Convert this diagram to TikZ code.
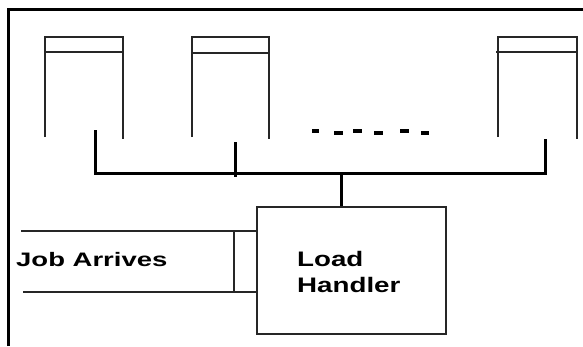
\documentclass[tikz,border=0pt]{standalone}
\usepackage{fontspec}
\setmainfont{Liberation Sans}
\begin{document}
\begin{tikzpicture}[x=1pt,y=-1pt,
  thinline/.style={line width=1.4pt,black!85},
  busline/.style={line width=3pt,black,line cap=rect},
  frameline/.style={line width=3pt,black},
  dashmark/.style={fill=black,draw=none},
  handlerbox/.style={draw=black!85,line width=1.4pt,minimum width=189pt,minimum height=127pt,inner sep=0pt},
  label/.style={font=\bfseries,inner sep=0pt,anchor=base west}]
\useasboundingbox (0,0) rectangle (583,346);

% outer frame (top and left edges)
\draw[frameline] (8,346) -- (8,9) -- (583,9);

% queues: open-bottom boxes with a header strip
\foreach \name/\l/\r/\h in {qa/45/123/52, qb/192/269/53, qc/498/577/52}{
  \draw[thinline] (\l,137) -- (\l,37) -- (\r,37) -- (\r,139);
  \draw[thinline] (\l,\h) -- (\r,\h);
}
\draw[thinline] (496,52) -- (498,52);

% ellipsis between the queues
\foreach \xa/\xb/\ya in {312/319/129, 334/343/131, 353/362/129, 374/383/131, 400/409/129, 421/429/131}{
  \fill[dashmark] (\xa,\ya) rectangle (\xb,\ya+3.5);
}

% load handler
\node[handlerbox] (lh) at (351.5,270.5) {};
\node[label,font=\fontsize{21}{26}\selectfont\bfseries] (lhtext) at (297,266) {\scalebox{1.32}[1]{Load}};
\node[label,font=\fontsize{21}{26}\selectfont\bfseries] (lhtext2) at (297,292) {\scalebox{1.32}[1]{Handler}};

% bus from the queues to the load handler
\coordinate (ta) at (95,131);
\coordinate (tb) at (235,143);
\coordinate (tc) at (545,140);
\coordinate (ba) at (95,173);
\coordinate (bb) at (235,175);
\coordinate (bc) at (545,173);
\coordinate (bm) at (341,173);
\draw[busline] (ta) -- (ba) -- (bc) -- (tc);
\draw[busline] (tb) -- (bb);
\draw[line width=3pt] (bm) -- (lh.north -| bm);

% incoming job channel
\coordinate (ia) at (21,231);
\coordinate (ib) at (23,292);
\draw[thinline] (ia) -- (ia -| lh.west);
\draw[thinline] (ib) -- (ib -| lh.west);
\draw[thinline] (234,231) -- (234,292);
\node[label,font=\fontsize{19.5}{24}\selectfont\bfseries] (job) at (16,266) {\scalebox{1.41}[1]{Job Arrives}};
\end{tikzpicture}
\end{document}
